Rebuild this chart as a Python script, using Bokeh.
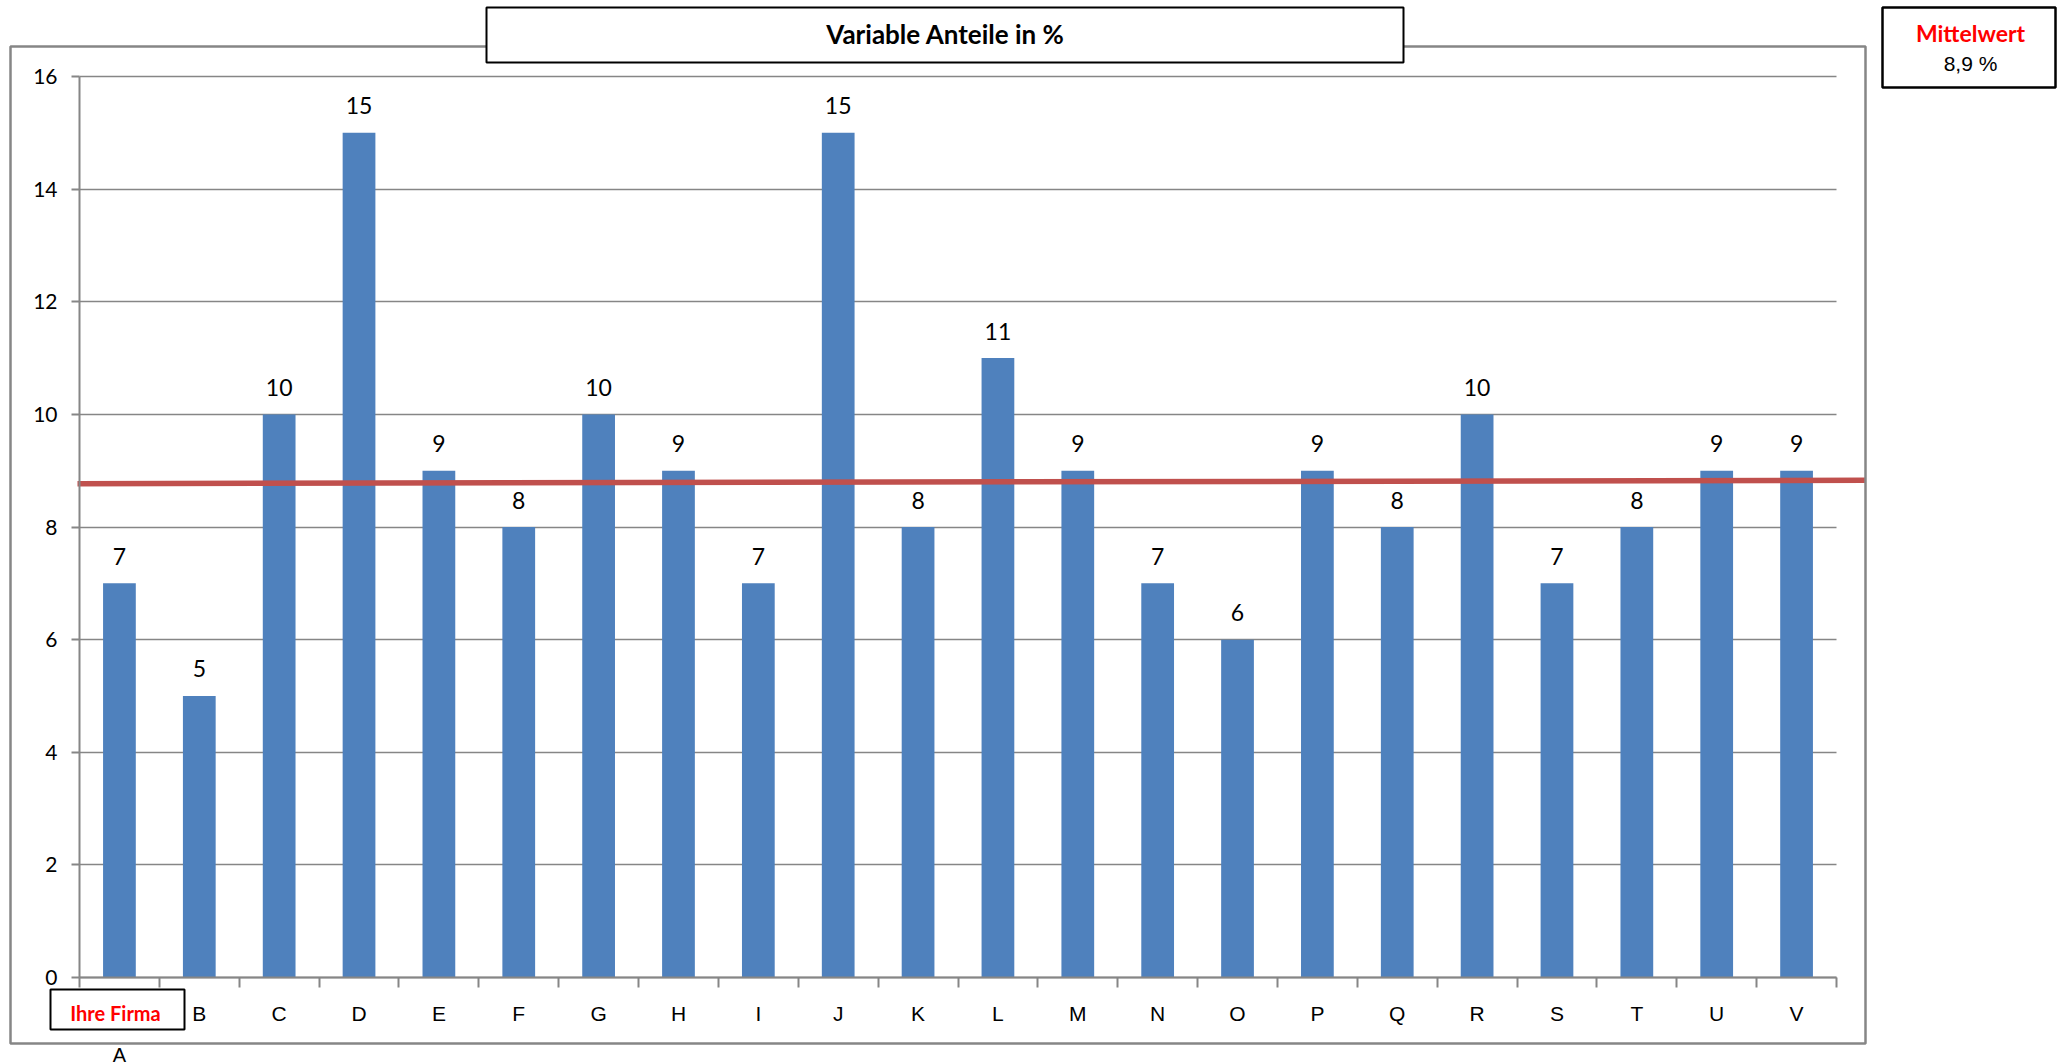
from bokeh.plotting import figure
from bokeh.models import Range1d, FixedTicker, BoxAnnotation, Label
from bokeh.core.properties import value
from bokeh.embed import file_html
from bokeh.resources import INLINE

# ---------------- data ----------------
categories = ["A", "B", "C", "D", "E", "F", "G", "H", "I", "J", "K",
              "L", "M", "N", "O", "P", "Q", "R", "S", "T", "U", "V"]
values = [7, 5, 10, 15, 9, 8, 10, 9, 7, 15, 8, 11, 9, 7, 6, 9, 8, 10, 7, 8, 9, 9]
y_ticks = [0, 2, 4, 6, 8, 10, 12, 14, 16]
mean_line = [8.77, 8.83]          # red average line as drawn (start, end)
title_text = "Variable Anteile in %"
mean_title = "Mittelwert"
highlight_text = "Ihre Firma"

mean_value = sum(values) / len(values)
mean_text = f"{mean_value:.1f}".replace(".", ",") + " %"

# ---------------- geometry (page pixels) ----------------
W, H = 2058, 1064
FL, FT, FR, FB = 79, 76, 1836, 977        # plot area of the bars
n = len(categories)
YMAX = y_ticks[-1]
SX = (FR - FL) / n
SY = (FB - FT) / YMAX
LBL_SHIFT = 8                              # compensation for label baseline placement

def xd(px):
    return (px - FL) / SX

def yd(py):
    return (FB - py) / SY

def ylab(py):
    return yd(py - LBL_SHIFT)

GREY = "#868686"

p = figure(width=W, height=H,
           x_range=Range1d(xd(0), xd(W)), y_range=Range1d(yd(H), yd(0)),
           output_backend="svg", toolbar_location=None,
           min_border_left=0, min_border_top=0, min_border_right=0, min_border_bottom=0)
p.outline_line_color = None
p.background_fill_color = "white"
p.border_fill_color = "white"

centers = [i + 0.5 for i in range(n)]
bounds = list(range(n + 1))

# grid lines limited to the plot area
gr = p.ygrid[0]
gr.ticker = FixedTicker(ticks=y_ticks)
gr.grid_line_color = GREY
gr.grid_line_width = 1.5
gr.bounds = (0, YMAX)
if "cross_bounds" in gr.properties():
    gr.cross_bounds = (0, n)
else:
    gr.visible = False
    p.segment(x0=[0] * len(y_ticks), x1=[n] * len(y_ticks), y0=y_ticks, y1=y_ticks,
              line_color=GREY, line_width=1.5)
p.xgrid.visible = False

# bars
p.vbar(x=centers, top=values, width=0.41, fill_color="#4F81BD", line_color=None)

# average line
p.line(x=[xd(77), xd(1865)], y=mean_line, line_color="#C0504D", line_width=5.5)

# data labels
p.text(x=centers, y=values, text=[str(v) for v in values],
       text_align="center", text_baseline="alphabetic", y_offset=-27,
       text_font=value("Lato"), text_font_size="23px", text_color="black")

# x axis
xa = p.xaxis[0]
xa.fixed_location = 0
xa.bounds = (0, n)
xa.ticker = FixedTicker(ticks=centers, minor_ticks=bounds)
xa.major_label_overrides = {c: ("" if i == 0 else categories[i]) for i, c in enumerate(centers)}
xa.major_tick_out = 0
xa.major_tick_in = 0
xa.minor_tick_out = 10
xa.minor_tick_in = 0
xa.minor_tick_line_color = GREY
xa.minor_tick_line_width = 2
xa.axis_line_color = GREY
xa.axis_line_width = 2
xa.major_label_standoff = 14
xa.major_label_text_font = "Liberation Sans"
xa.major_label_text_font_size = "21px"
xa.major_label_text_color = "black"

# y axis
ya = p.yaxis[0]
ya.fixed_location = 0
ya.bounds = (0, YMAX)
ya.ticker = FixedTicker(ticks=y_ticks)
ya.major_tick_out = 8
ya.major_tick_in = 0
ya.minor_tick_out = 0
ya.minor_tick_in = 0
ya.major_tick_line_color = GREY
ya.major_tick_line_width = 2
ya.axis_line_color = GREY
ya.axis_line_width = 2
ya.major_label_standoff = 14
ya.major_label_text_font = "Lato"
ya.major_label_text_font_size = "21px"
ya.major_label_text_color = "black"

# outer chart border
p.add_layout(BoxAnnotation(left=xd(10), right=xd(1865), top=yd(46), bottom=yd(1043),
                           fill_color=None, fill_alpha=0, line_color=GREY, line_width=2.5,
                           line_alpha=1))

# title box
p.add_layout(BoxAnnotation(left=xd(486), right=xd(1403), top=yd(7), bottom=yd(62),
                           fill_color="white", fill_alpha=1, line_color="black",
                           line_width=2, line_alpha=1))
p.add_layout(Label(x=xd(945), y=ylab(41), text=title_text, text_align="center",
                   text_baseline="alphabetic", text_font="Lato", text_font_style="bold",
                   text_font_size="26px", text_color="black"))

# Mittelwert box
p.add_layout(BoxAnnotation(left=xd(1882), right=xd(2055), top=yd(7), bottom=yd(87),
                           fill_color="white", fill_alpha=1, line_color="black",
                           line_width=2.5, line_alpha=1))
p.add_layout(Label(x=xd(1970), y=ylab(40), text=mean_title, text_align="center",
                   text_baseline="alphabetic", text_font="Lato", text_font_style="bold",
                   text_font_size="23px", text_color="#FF0000"))
p.add_layout(Label(x=xd(1970), y=ylab(71), text=mean_text, text_align="center",
                   text_baseline="alphabetic", text_font="Liberation Sans",
                   text_font_size="21px", text_color="black"))

# Ihre Firma box + label A
p.add_layout(BoxAnnotation(left=xd(50), right=xd(184), top=yd(989), bottom=yd(1029),
                           fill_color="white", fill_alpha=1, line_color="black",
                           line_width=2, line_alpha=1))
p.add_layout(Label(x=xd(115), y=ylab(1020), text=highlight_text, text_align="center",
                   text_baseline="alphabetic", text_font="Lato", text_font_style="bold",
                   text_font_size="20px", text_color="#FF0000"))
p.add_layout(Label(x=centers[0], y=ylab(1062), text=categories[0], text_align="center",
                   text_baseline="alphabetic", text_font="Liberation Sans",
                   text_font_size="20px", text_color="black"))

open("out.html", "w").write(file_html(p, INLINE))
